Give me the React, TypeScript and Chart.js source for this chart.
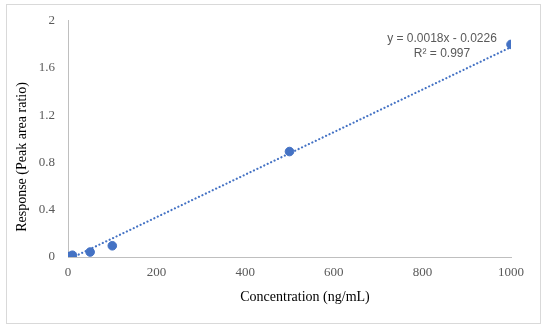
import React, { useEffect, useRef } from "react";
import { Chart, registerables } from "chart.js";

Chart.register(...registerables);

const concentrations = [1, 5, 10, 50, 100, 500, 1000];
const responses = [0.001, 0.006, 0.015, 0.042, 0.095, 0.893, 1.8];
const trendSlope = 0.0018;
const trendIntercept = -0.0226;
const equationText = "y = 0.0018x - 0.0226";
const r2Text = "R² = 0.997";
const xTitle = "Concentration (ng/mL)";
const yTitle = "Response (Peak area ratio)";

export default function App() {
  const ref = useRef<HTMLCanvasElement | null>(null);
  useEffect(() => {
    if (!ref.current) return;
    const xMin = Math.min(...concentrations);
    const xMax = Math.max(...concentrations);
    const trend = [
      { x: xMin, y: trendSlope * xMin + trendIntercept },
      { x: xMax, y: trendSlope * xMax + trendIntercept },
    ];
    const overlay = {
      id: "overlay",
      beforeDraw(chart: any) {
        const ctx = chart.ctx;
        ctx.save();
        ctx.fillStyle = "#ffffff";
        ctx.fillRect(0, 0, chart.width, chart.height);
        ctx.restore();
      },
      afterDraw(chart: any) {
        const ctx = chart.ctx;
        ctx.save();
        ctx.strokeStyle = "#d9d9d9";
        ctx.lineWidth = 1;
        ctx.strokeRect(6.5, 4.5, 534, 319);
        ctx.fillStyle = "#000000";
        ctx.font = "14px 'Liberation Serif', 'Times New Roman', serif";
        ctx.textAlign = "center";
        ctx.textBaseline = "middle";
        ctx.fillText(xTitle, 305, 297);
        ctx.save();
        ctx.translate(22, 157);
        ctx.rotate(-Math.PI / 2);
        ctx.fillText(yTitle, 0, 0);
        ctx.restore();
        ctx.fillStyle = "#595959";
        ctx.font = "12px 'Liberation Sans', Arial, sans-serif";
        ctx.fillText(equationText, 442, 39);
        ctx.fillText(r2Text, 442, 54);
        ctx.restore();
      },
    };
    const chart = new Chart(ref.current, {
      type: "scatter",
      data: {
        datasets: [
          {
            label: "Data",
            data: concentrations.map((x, i) => ({ x, y: responses[i] })),
            backgroundColor: "#4472C4",
            borderColor: "#4472C4",
            pointRadius: 4.3,
            pointHoverRadius: 4.3,
            showLine: false,
          },
          {
            label: "Trend",
            data: trend,
            showLine: true,
            borderColor: "#4472C4",
            borderWidth: 2.2,
            borderDash: [0.01, 3.8],
            borderCapStyle: "round",
            pointRadius: 0,
            fill: false,
          } as any,
        ],
      },
      options: {
        responsive: false,
        animation: false,
        devicePixelRatio: 1,
        layout: { padding: { left: 0, right: 39, top: 19, bottom: 0 } },
        plugins: { legend: { display: false }, tooltip: { enabled: false } },
        scales: {
          x: {
            type: "linear",
            min: 0,
            max: 1000,
            ticks: {
              stepSize: 200,
              color: "#595959",
              padding: 8,
              callback: (v: any) => String(v),
              font: { family: "'Liberation Serif', 'Times New Roman', serif", size: 13 },
            },
            grid: { display: false, drawTicks: false },
            border: { display: true, color: "#bfbfbf", width: 1 },
            afterFit: (s: any) => {
              s.height = 73;
            },
          },
          y: {
            type: "linear",
            min: 0,
            max: 2,
            ticks: {
              stepSize: 0.4,
              color: "#595959",
              padding: 13,
              callback: (v: any) => String(Math.round(Number(v) * 10) / 10),
              font: { family: "'Liberation Serif', 'Times New Roman', serif", size: 13 },
            },
            grid: { display: false, drawTicks: false },
            border: { display: true, color: "#bfbfbf", width: 1 },
            afterFit: (s: any) => {
              s.width = 68;
            },
          },
        },
      },
      plugins: [overlay],
    });
    return () => chart.destroy();
  }, []);
  return (
    <div style={{ position: "absolute", left: 0, top: 0, width: 550, height: 330 }}>
      <canvas ref={ref} width={550} height={330} style={{ display: "block" }} />
    </div>
  );
}
